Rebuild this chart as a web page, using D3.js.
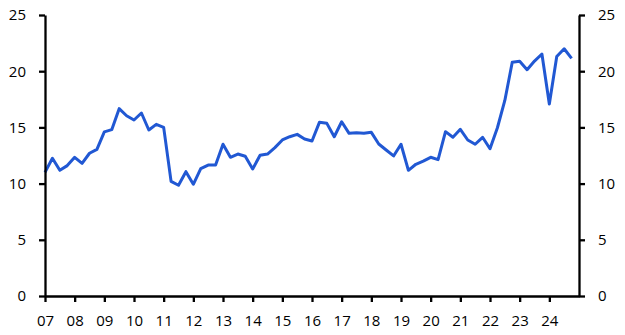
<!DOCTYPE html>
<html>
<head>
<meta charset="utf-8">
<script src="https://cdn.jsdelivr.net/npm/d3@7/dist/d3.min.js"></script>
<style>
  html, body { margin: 0; padding: 0; background: #fff; }
  svg { display: block; }
  text { font-family: "Open Sans", "Noto Sans", sans-serif; font-size: 15px; fill: #000; }
</style>
</head>
<body>
<svg id="chart" width="625" height="335"></svg>
<script>
// Quarterly series, 2007 Q1 to 2024 Q4
const startYear = 2007;
const values = [
  11.0, 12.25, 11.18, 11.6,
  12.34, 11.8, 12.7, 13.05,
  14.6, 14.8, 16.67, 16.04,
  15.66, 16.28, 14.77, 15.27,
  15.0, 10.2, 9.85, 11.06,
  9.94, 11.33, 11.65, 11.65,
  13.5, 12.34, 12.63, 12.43,
  11.3, 12.52, 12.63, 13.2,
  13.88, 14.17, 14.38, 13.97,
  13.79, 15.45, 15.36, 14.17,
  15.5, 14.47, 14.53, 14.47,
  14.56, 13.52, 12.99, 12.46,
  13.5, 11.18, 11.72, 12.0,
  12.34, 12.13, 14.62, 14.12,
  14.83, 13.88, 13.5, 14.12,
  13.1, 14.97, 17.4, 20.8,
  20.88, 20.13, 20.9, 21.53,
  17.08, 21.3, 22.0, 21.14
];
const xTickYears = d3.range(2007, 2025);
const yTicks = [0, 5, 10, 15, 20, 25];

const svg = d3.select("#chart");
const mLeft = 45, mRight = 579, mTop = 15, mBottom = 296;

const x = d3.scaleLinear().domain([2007, 2025]).range([mLeft, mRight]);
const y = d3.scaleLinear().domain([0, 25]).range([mBottom, mTop]);

const data = values.map((v, i) => ({ t: startYear + i / 4, v }));

// Line
svg.append("path")
  .datum(data)
  .attr("fill", "none")
  .attr("stroke", "#2158d3")
  .attr("stroke-width", 3)
  .attr("stroke-linejoin", "round")
  .attr("d", d3.line().x(d => x(d.t)).y(d => y(d.v)));

// Left axis
const yl = svg.append("g").attr("transform", `translate(${mLeft},0)`)
  .call(d3.axisLeft(y).tickValues(yTicks).tickSize(6).tickPadding(13).tickSizeOuter(0));
// Right axis
const yr = svg.append("g").attr("transform", `translate(${mRight},0)`)
  .call(d3.axisRight(y).tickValues(yTicks).tickSize(6).tickPadding(13).tickSizeOuter(0));
// Bottom axis
const xa = svg.append("g").attr("transform", `translate(0,${mBottom})`)
  .call(d3.axisBottom(x).tickValues(xTickYears).tickSize(6).tickPadding(13)
    .tickFormat(d => String(d % 100).padStart(2, "0")).tickSizeOuter(0));

[yl, yr, xa].forEach(g => {
  g.select(".domain").attr("stroke", "#000").attr("stroke-width", 2.3);
  g.selectAll(".tick line").attr("stroke", "#000").attr("stroke-width", 2.3);
  g.selectAll(".tick text").attr("fill", "#000").style("font-size", "15px")
    .style("font-family", '"Open Sans", "Noto Sans", sans-serif');
});
</script>
</body>
</html>
